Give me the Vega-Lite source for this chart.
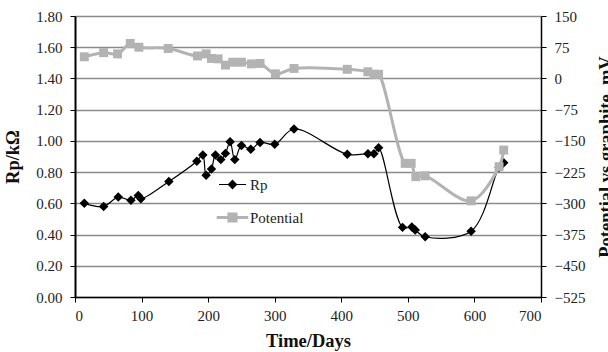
{
  "$schema": "https://vega.github.io/schema/vega-lite/v6.json",
  "width": 466,
  "height": 281,
  "autosize": {"type": "none"},
  "padding": {"left": 75, "top": 16, "right": 67, "bottom": 55},
  "background": "white",
  "config": {
    "font": "Liberation Serif",
    "view": {"stroke": null},
    "axis": {
      "labelFont": "Liberation Serif",
      "titleFont": "Liberation Serif",
      "labelFontSize": 15,
      "titleFontSize": 18.5,
      "titleFontWeight": "bold",
      "labelColor": "#222222",
      "titleColor": "#111111",
      "domainColor": "black",
      "tickColor": "black",
      "tickSize": 5,
      "labelPadding": 6
    }
  },
  "datasets": {
    "rp": [
      {"day": 14, "rp": 0.60}, {"day": 43, "rp": 0.58}, {"day": 65, "rp": 0.64},
      {"day": 84, "rp": 0.62}, {"day": 95, "rp": 0.65}, {"day": 99, "rp": 0.63},
      {"day": 141, "rp": 0.74}, {"day": 183, "rp": 0.87}, {"day": 192, "rp": 0.91},
      {"day": 197, "rp": 0.78}, {"day": 205, "rp": 0.82}, {"day": 211, "rp": 0.91},
      {"day": 219, "rp": 0.88}, {"day": 226, "rp": 0.92}, {"day": 233, "rp": 0.995},
      {"day": 240, "rp": 0.88}, {"day": 250, "rp": 0.97}, {"day": 264, "rp": 0.946},
      {"day": 278, "rp": 0.99}, {"day": 300, "rp": 0.978}, {"day": 329, "rp": 1.076},
      {"day": 409, "rp": 0.914}, {"day": 440, "rp": 0.918}, {"day": 449, "rp": 0.918},
      {"day": 456, "rp": 0.956}, {"day": 492, "rp": 0.446}, {"day": 506, "rp": 0.448},
      {"day": 511, "rp": 0.429}, {"day": 526, "rp": 0.386}, {"day": 595, "rp": 0.421},
      {"day": 637, "rp": 0.83}, {"day": 644, "rp": 0.86}
    ],
    "pot": [
      {"day": 14, "p": 52}, {"day": 43, "p": 62}, {"day": 64, "p": 59},
      {"day": 83, "p": 84}, {"day": 96, "p": 75}, {"day": 140, "p": 72},
      {"day": 184, "p": 54}, {"day": 197, "p": 59}, {"day": 205, "p": 48},
      {"day": 215, "p": 47}, {"day": 226, "p": 32}, {"day": 237, "p": 39},
      {"day": 250, "p": 39}, {"day": 265, "p": 35}, {"day": 278, "p": 36},
      {"day": 301, "p": 11}, {"day": 329, "p": 24}, {"day": 409, "p": 22},
      {"day": 440, "p": 16}, {"day": 449, "p": 10}, {"day": 456, "p": 10},
      {"day": 496, "p": -204}, {"day": 505, "p": -204}, {"day": 512, "p": -236},
      {"day": 526, "p": -234}, {"day": 595, "p": -294}, {"day": 637, "p": -212},
      {"day": 644, "p": -172}
    ]
  },
  "layer": [
    {
      "data": {"name": "rp"},
      "mark": {"type": "line", "interpolate": "catmull-rom", "strokeWidth": 1.2,
               "point": {"shape": "diamond", "filled": true, "size": 90, "opacity": 1}},
      "encoding": {
        "x": {"field": "day", "type": "quantitative",
              "scale": {"domain": [0, 700], "nice": false},
              "axis": {"values": [0, 100, 200, 300, 400, 500, 600, 700], "title": "Time/Days",
                       "grid": false, "domainWidth": 1.5, "labelPadding": 6, "titlePadding": 8}},
        "y": {"field": "rp", "type": "quantitative",
              "scale": {"domain": [0, 1.8], "nice": false, "zero": false},
              "axis": {"values": [0, 0.2, 0.4, 0.6, 0.8, 1.0, 1.2, 1.4, 1.6, 1.8], "format": ".2f",
                       "title": "Rp/kΩ", "grid": true, "gridColor": "#8a8a8a", "gridWidth": 1.5,
                       "domainWidth": 2, "labelPadding": 8, "titlePadding": 13}},
        "color": {"datum": "Rp", "type": "nominal",
                  "scale": {"domain": ["Rp", "Potential"], "range": ["black", "#b3b3b3"]},
                  "legend": {
                    "orient": "none", "legendX": 150, "legendY": 161, "title": null, "padding": 0,
                    "symbolSize": 900, "symbolType": "M-1,0L1,0M0,-0.3L0.3,0L0,0.3L-0.3,0Z",
                    "labelFont": "Liberation Serif", "labelFontSize": 15, "labelColor": "#222222",
                    "labelOffset": 10, "rowPadding": 14,
                    "encode": {"symbols": {"update": {
                      "shape": {"signal": "datum.value === 'Rp' ? 'M-0.9,0L0.9,0M0,-0.27L0.27,0L0,0.27L-0.27,0Z' : 'M-1.05,0L1.05,0M-0.24,-0.24L0.24,-0.24L0.24,0.24L-0.24,0.24Z'"},
                      "strokeWidth": {"signal": "datum.value === 'Rp' ? 1.2 : 3"},
                      "fill": {"signal": "datum.value === 'Rp' ? 'black' : '#b3b3b3'"},
                      "stroke": {"signal": "datum.value === 'Rp' ? 'black' : '#b3b3b3'"},
                      "opacity": {"value": 1}
                    }}}
                  }}
      }
    },
    {
      "data": {"name": "pot"},
      "mark": {"type": "line", "interpolate": "catmull-rom", "strokeWidth": 3,
               "point": {"shape": "square", "filled": true, "size": 80, "opacity": 1}},
      "encoding": {
        "x": {"field": "day", "type": "quantitative"},
        "y": {"field": "p", "type": "quantitative",
              "scale": {"domain": [-525, 150], "nice": false, "zero": false},
              "axis": {"orient": "right", "values": [-525, -450, -375, -300, -225, -150, -75, 0, 75, 150],
                       "title": "Potential vs graphite, mV", "grid": false, "domainWidth": 1.5,
                       "labelPadding": 8, "titleAngle": 270, "titleBaseline": "top", "titlePadding": 12}},
        "color": {"datum": "Potential", "type": "nominal"}
      }
    }
  ],
  "resolve": {"scale": {"y": "independent"}}
}
